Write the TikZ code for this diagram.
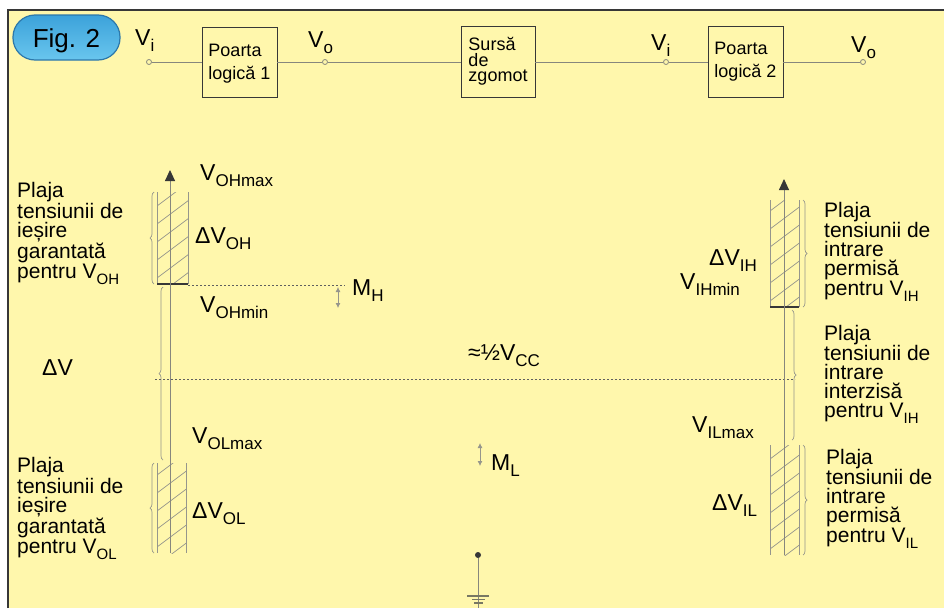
\documentclass[tikz,border=0pt]{standalone}
\usepackage{fontspec}
\setmainfont{Liberation Sans}
\usetikzlibrary{decorations.pathreplacing,arrows.meta}
\definecolor{bgyellow}{RGB}{255,247,172}
\definecolor{wirec}{RGB}{135,135,125}
\definecolor{darkc}{RGB}{55,55,55}
\definecolor{hatchc}{RGB}{150,150,140}
\definecolor{bracec}{RGB}{150,150,140}
\definecolor{pilltop}{RGB}{60,162,218}
\definecolor{pillbot}{RGB}{105,198,238}
\definecolor{pilledge}{RGB}{45,120,170}
\definecolor{groundc}{RGB}{120,120,100}
\newcommand\fs[2]{\fontsize{#1}{#2}\selectfont}
\newcommand\lsub[1]{\raisebox{-0.3em}{\fs{17}{17}#1}}
\newcommand\tsub[1]{\raisebox{-0.3em}{\fs{15}{15}#1}}
\newcommand\hatchrect[4]{%
  \begin{scope}
    \clip (#1,#2) rectangle (#3,#4);
    \foreach \k in {0,...,9} \draw[hatchl] (#1,{#4+30-18*\k}) -- ++(40,-30);
  \end{scope}
  \draw[hatchs] (#1,#2) -- (#1,#4) (#3,#2) -- (#3,#4);}
\tikzset{
  lab/.style={anchor=base west, inner sep=0pt, font=\fs{23}{23}},
  side/.style={anchor=base west, inner sep=0pt, align=left, font=\fs{21}{18.75}},
  gate/.style={draw=darkc, line width=0.9pt, fill=bgyellow, inner sep=0pt, align=left, font=\fs{18}{23}},
  term/.style={circle, draw=wirec, fill=bgyellow, line width=0.8pt, inner sep=0pt, minimum size=5pt},
  wirel/.style={draw=wirec, line width=1pt},
  axisl/.style={draw=wirec, line width=0.9pt, -{Triangle[length=11pt,width=10pt,fill=darkc,color=darkc]}},
  hatchl/.style={draw=hatchc, line width=0.7pt},
  hatchs/.style={draw=hatchc, line width=0.8pt},
  brc/.style={draw=bracec, line width=0.7pt, decorate, decoration={brace, amplitude=4pt}},
  dotl/.style={draw=darkc!80, line width=0.6pt, dash pattern=on 2pt off 2pt},
  marr/.style={draw=hatchc, line width=0.8pt, {Latex[length=5pt,width=5pt]}-{Latex[length=5pt,width=5pt]}},
  pill/.style={rounded corners=22pt, minimum width=107pt, minimum height=45pt, top color=pilltop, bottom color=pillbot, draw=pilledge, line width=1.2pt, font=\fs{26}{26}, text height=19pt, text depth=0pt, inner sep=0pt}
}
\begin{document}
\begin{tikzpicture}[x=1pt,y=-1pt]
\useasboundingbox (0,0) rectangle (944,608);
\fill[white] (0,0) rectangle (944,608);
\fill[bgyellow] (8,10) rectangle (944,608);
\draw[darkc, line width=2.2pt] (8,608) -- (8,10) -- (944,10);

% badge
\node[pill] (fig) at (66.5,37.5) {Fig. 2};

% top chain
\node[term] (vi1) at (149,62) {};
\node[gate, minimum width=75pt, minimum height=70pt, text depth=-1pt] (g1) at (239.5,62) {Poarta\\logică 1};
\node[term] (vo1) at (325,62) {};
\node[gate, minimum width=74pt, minimum height=71pt, font=\fs{18}{15.5}] (g2) at (498,61.5) {Sursă\\de\\zgomot};
\node[term] (vi2) at (666,62) {};
\node[gate, minimum width=75pt, minimum height=71pt] (g3) at (745.5,61.5) {Poarta\\logică 2};
\node[term] (vo2) at (863,62) {};
\draw[wirel] (vi1) -- (g1);
\draw[wirel] (g1) -- (vo1);
\draw[wirel] (vo1) -- (g2.west |- vo1);
\draw[wirel] (g2.east |- vi2) -- (vi2);
\draw[wirel] (vi2) -- (g3.west |- vi2);
\draw[wirel] (g3.east |- vo2) -- (vo2);
\node[lab] (lvi1) at (135,45) {V\lsub{i}};
\node[lab] (lvo1) at (308,47) {V\lsub{o}};
\node[lab] (lvi2) at (651,50) {V\lsub{i}};
\node[lab] (lvo2) at (851,52) {V\lsub{o}};

% left side
\hatchrect{157}{192}{188}{284}
\hatchrect{157}{463}{186}{553}
\draw[darkc, line width=1.8pt] (157,284) -- (188,284);
\coordinate (lbot) at (170,553);
\coordinate (ltop) at (170,170);
\draw[axisl] (lbot) -- (ltop);
\draw[brc] (154,284) -- (154,192);
\draw[brc] (163,460) -- (163,287);
\draw[brc] (154,553) -- (154,463);
\draw[dotl] (188,285) -- (345,285);
\draw[dotl] (155,379) -- (795,379);
\draw[marr] (338,287) -- (338,308);
\draw[marr] (480,443) -- (480,466);

% right side
\hatchrect{770}{200}{799}{307}
\hatchrect{770}{445}{799}{555}
\draw[darkc, line width=1.8pt] (770,307) -- (799,307);
\coordinate (rbot) at (784,555);
\coordinate (rtop) at (784,179);
\draw[axisl] (rbot) -- (rtop);
\draw[brc] (803,200) -- (803,307);
\draw[brc] (792,310) -- (792,440);
\draw[brc] (803,445) -- (803,555);

% labels
\node[lab] (voh) at (200,180) {V\lsub{OHmax}};
\node[lab] (dvoh) at (195,243) {ΔV\lsub{OH}};
\node[lab] (vohmin) at (200,312) {V\lsub{OHmin}};
\node[lab] (dv) at (42,375) {ΔV};
\node[lab] (half) at (468,360) {≈½V\lsub{CC}};
\node[lab] (volmax) at (192,443) {V\lsub{OLmax}};
\node[lab] (dvol) at (192,518) {ΔV\lsub{OL}};
\node[lab] (mh) at (352,295) {M\lsub{H}};
\node[lab] (ml) at (491,470) {M\lsub{L}};
\node[lab] (dvih) at (709,265) {ΔV\lsub{IH}};
\node[lab] (vihmin) at (680,289) {V\lsub{IHmin}};
\node[lab] (vilmax) at (692,432) {V\lsub{ILmax}};
\node[lab] (dvil) at (712,510) {ΔV\lsub{IL}};

\node[side] (t1) at (17,278) {Plaja\\tensiunii de\\ieșire\\garantată\\pentru V\tsub{OH}};
\node[side] (t2) at (17,553) {Plaja\\tensiunii de\\ieșire\\garantată\\pentru V\tsub{OL}};
\node[side] (t3) at (824,295) {Plaja\\tensiunii de\\intrare\\permisă\\pentru V\tsub{IH}};
\node[side] (t4) at (824,417) {Plaja\\tensiunii de\\intrare\\interzisă\\pentru V\tsub{IH}};
\node[side] (t5) at (826,542) {Plaja\\tensiunii de\\intrare\\permisă\\pentru V\tsub{IL}};

% ground
\node[circle, fill=darkc, inner sep=0pt, minimum size=6pt] (gdot) at (478,555) {};
\coordinate (gbot) at (478,608);
\draw[wirel] (gdot) -- (gbot);
\draw[groundc, line width=1.8pt] (467,596) -- (489,596);
\draw[groundc, line width=1.5pt] (472,599.5) -- (485,599.5);
\draw[groundc, line width=1.3pt] (474,603) -- (483,603);
\end{tikzpicture}
\end{document}
